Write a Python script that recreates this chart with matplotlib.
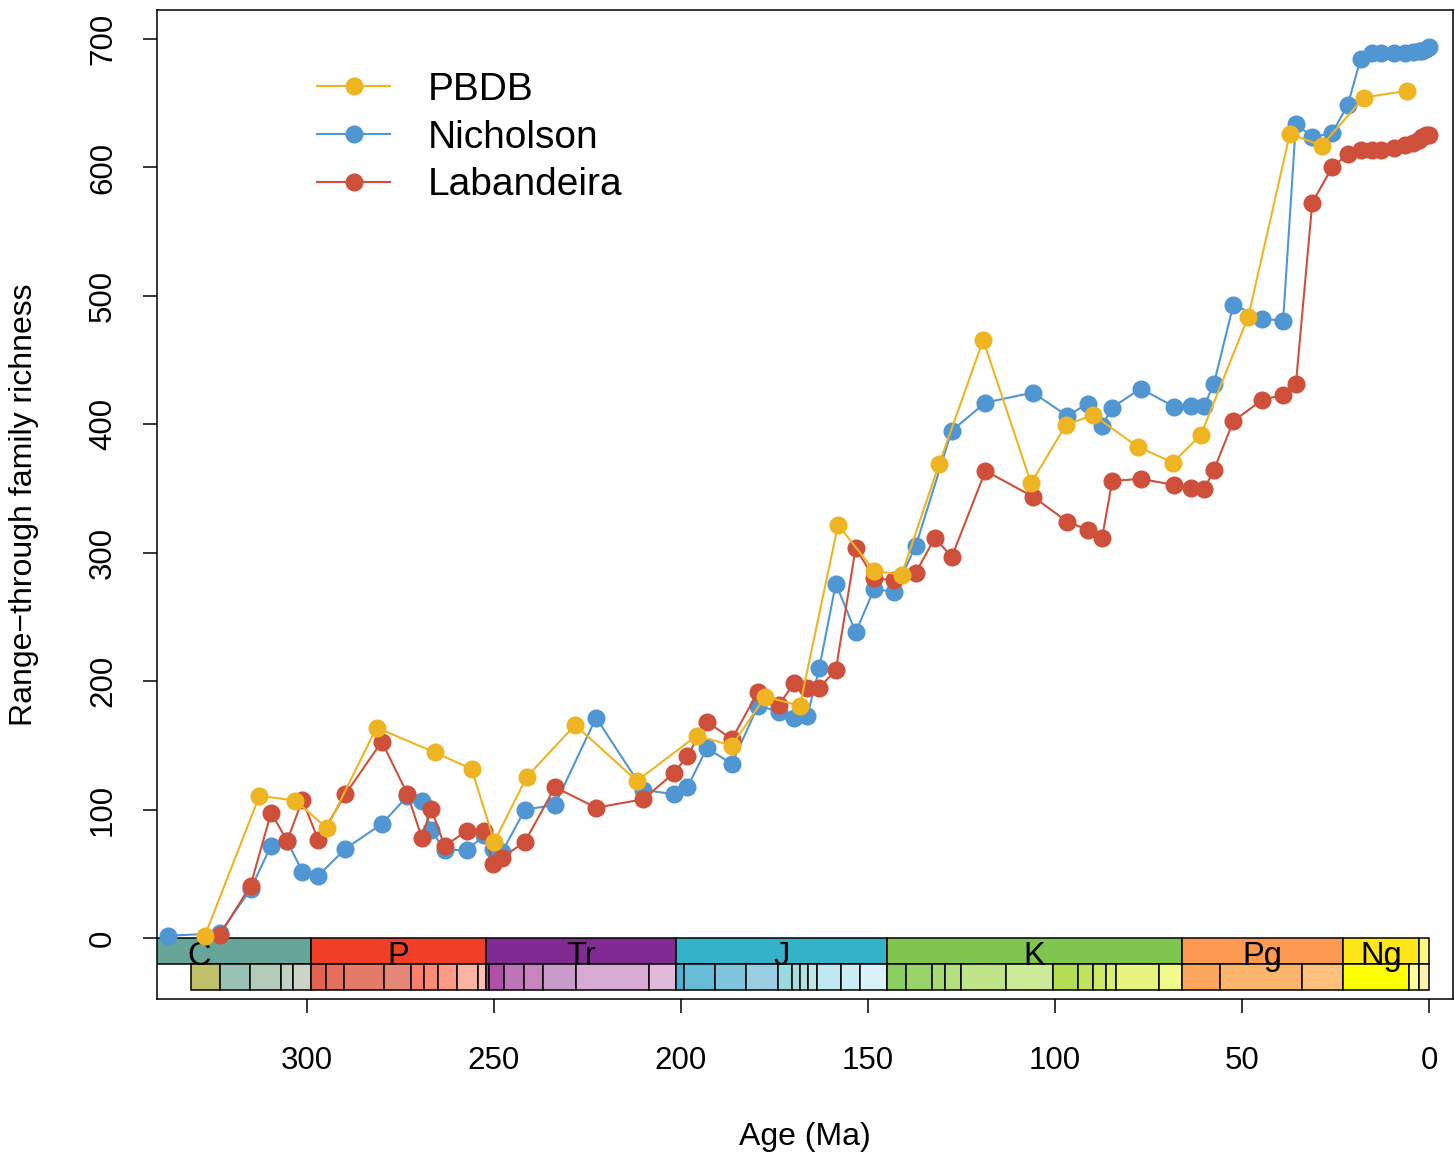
import matplotlib
matplotlib.use("Agg")
import matplotlib.pyplot as plt
from matplotlib.patches import Rectangle

plt.rcParams['font.family'] = ['Liberation Sans', 'DejaVu Sans']

# ---------------- data ----------------
pbdb_age = [327.3, 312.7, 303.1, 294.7, 281.4, 265.9, 256.0, 249.9, 241.3, 228.3,
            211.8, 195.8, 186.4, 177.5, 168.2, 158.0, 148.3, 141.0, 131.0, 119.2,
            106.4, 97.1, 89.8, 77.9, 68.5, 61.0, 48.3, 37.2, 28.7, 17.4, 6.0]
pbdb_val = [1.8, 110.7, 107.0, 85.6, 163.8, 144.6, 131.6, 75.0, 125.2, 165.9,
            122.3, 157.6, 149.8, 187.9, 180.9, 321.7, 285.8, 283.0, 368.9, 465.7,
            354.1, 399.5, 407.3, 382.6, 370.2, 391.7, 483.9, 626.2, 617.0, 654.4, 659.7]

nich_age = [337.1, 323.3, 315.1, 309.6, 305.3, 301.2, 297.0, 289.7, 280.0, 273.2,
            269.3, 266.8, 263.2, 257.2, 252.6, 250.3, 247.8, 241.7, 233.7, 222.7,
            210.1, 201.8, 198.3, 193.1, 186.4, 179.4, 173.8, 169.8, 166.2, 163.0,
            158.6, 153.3, 148.3, 143.0, 137.2, 127.6, 118.6, 105.9, 96.7, 91.3,
            87.4, 84.7, 77.1, 68.2, 63.5, 60.1, 57.5, 52.3, 44.6, 39.0,
            35.6, 31.2, 25.9, 21.7, 18.3, 15.2, 12.9, 9.4, 6.4, 4.2,
            2.6, 1.8, 0.8, 0.1]
nich_val = [1.8, 3.6, 37.9, 71.9, 75.5, 51.5, 48.5, 69.6, 88.8, 110.3,
            107.0, 84.0, 68.5, 68.5, 80.0, 69.3, 67.2, 100.0, 103.6, 171.5,
            115.3, 112.0, 117.2, 147.8, 135.7, 180.9, 176.3, 171.6, 173.1, 210.5,
            276.0, 238.0, 272.0, 269.2, 305.5, 395.0, 416.9, 424.7, 406.5, 416.1,
            398.8, 413.0, 427.8, 413.8, 414.4, 414.4, 431.7, 493.2, 482.3, 480.6,
            634.0, 623.6, 626.7, 648.8, 684.3, 689.5, 689.5, 689.5, 689.5, 689.8,
            690.3, 691.0, 692.0, 694.0]

lab_age = [323.3, 315.1, 309.6, 305.3, 301.2, 297.0, 289.7, 280.0, 273.2, 269.3,
           266.8, 263.2, 257.2, 252.6, 250.3, 247.8, 241.7, 233.7, 222.7, 210.1,
           201.8, 198.3, 193.1, 186.4, 179.4, 173.8, 169.8, 166.2, 163.0, 158.6,
           153.3, 148.3, 143.0, 137.2, 132.1, 127.6, 118.6, 105.9, 96.7, 91.3,
           87.4, 84.7, 77.1, 68.2, 63.5, 60.1, 57.5, 52.3, 44.6, 39.0,
           35.6, 31.2, 25.9, 21.7, 18.3, 15.2, 12.9, 9.4, 6.4, 4.2,
           2.6, 1.8, 0.8, 0.1]
lab_val = [2.5, 40.7, 97.6, 75.7, 107.7, 76.3, 112.1, 152.9, 112.5, 78.2,
           100.5, 71.7, 83.5, 83.5, 57.8, 62.6, 75.0, 117.4, 101.5, 108.0,
           128.7, 141.7, 168.5, 154.8, 191.8, 181.5, 198.4, 194.5, 194.9, 208.7,
           303.5, 280.0, 278.5, 284.5, 311.6, 296.7, 363.7, 343.7, 324.2, 317.8,
           311.8, 355.9, 357.5, 352.8, 350.2, 349.5, 364.5, 402.5, 419.0, 422.9,
           431.0, 572.7, 600.0, 610.6, 613.7, 613.7, 613.7, 615.0, 617.6, 619.4,
           621.5, 624.0, 625.0, 625.0]

series_names = ["PBDB", "Nicholson", "Labandeira"]
series_colors = ["#EFB422", "#5096D2", "#CF503A"]

# geological time scale (GTS2012)
period_names = ["C", "P", "Tr", "J", "K", "Pg", "Ng", ""]
period_start = [358.9, 298.9, 252.2, 201.3, 145.0, 66.0, 23.03, 2.58]
period_end = [298.9, 252.2, 201.3, 145.0, 66.0, 23.03, 2.58, 0.0]
period_colors = ["#67A599", "#F04028", "#812B92", "#34B2C9", "#7FC64E",
                 "#FD9A52", "#FFE619", "#F9F97F"]

stage_start = [330.9, 323.2, 315.2, 307.0, 303.7,
               298.9, 295.0, 290.1, 279.3, 272.3, 268.8, 265.1, 259.8, 254.2,
               252.2, 251.2, 247.2, 242.0, 237.0, 228.0, 208.5,
               201.3, 199.3, 190.8, 182.7, 174.1, 170.3, 168.3, 166.1, 163.5, 157.3, 152.1,
               145.0, 139.8, 132.9, 129.4, 125.0, 113.0, 100.5, 93.9, 89.8, 86.3, 83.6, 72.1,
               66.0, 56.0, 33.9,
               23.03, 5.333, 2.58]
stage_end = [323.2, 315.2, 307.0, 303.7, 298.9,
             295.0, 290.1, 279.3, 272.3, 268.8, 265.1, 259.8, 254.2, 252.2,
             251.2, 247.2, 242.0, 237.0, 228.0, 208.5, 201.3,
             199.3, 190.8, 182.7, 174.1, 170.3, 168.3, 166.1, 163.5, 157.3, 152.1, 145.0,
             139.8, 132.9, 129.4, 125.0, 113.0, 100.5, 93.9, 89.8, 86.3, 83.6, 72.1, 66.0,
             56.0, 33.9, 23.03,
             5.333, 2.58, 0.0]
stage_colors = ["#BFC26B", "#99C2B5", "#B3CBB9", "#BFD0C5", "#CCD4C7",
                "#E36350", "#E36F5C", "#E37B68", "#E38776", "#FB8069", "#FB8D76",
                "#FB9A85", "#FCB4A2", "#FCC0B2",
                "#A4469F", "#B051A5", "#BC75B7", "#C983BF", "#C99BCB", "#D6AAD3", "#E3B9DB",
                "#4EB3D3", "#67BCD8", "#80C5DD", "#99CEE3", "#9AD9DD", "#A6DDE0",
                "#B3E2E3", "#BFE7E5", "#BFE7F1", "#CCECF4", "#D9F1F7",
                "#8CCD60", "#99D36A", "#A6D975", "#B3DF7F", "#BFE48A", "#CCEA97",
                "#B3DE53", "#BFE35D", "#CCE968", "#D9EF74", "#E6F47F", "#F2FA8C",
                "#FDA75F", "#FDB46C", "#FEC07A",
                "#FFFF00", "#FFFF99", "#FFF2AE"]

x_ticks = [300, 250, 200, 150, 100, 50, 0]
y_ticks = [0, 100, 200, 300, 400, 500, 600, 700]

# ---------------- figure ----------------
W, H = 1455, 1156
fig = plt.figure(figsize=(W / 100, H / 100), dpi=100)
ax = fig.add_axes([157 / W, 1 - 999 / H, 1296 / W, 989 / H])
ax.set_xlim(340.1, -6.42)
ax.set_ylim(-47.5, 722.6)

band_top, band_mid, band_bot = 0.0, -20.2, -40.5
for s, e, c, n in zip(period_start, period_end, period_colors, period_names):
    ax.add_patch(Rectangle((e, band_mid), s - e, band_top - band_mid,
                           facecolor=c, edgecolor="black", linewidth=1.1, zorder=2))
    if n:
        ax.text((s + e) / 2, band_mid - 0.8, n, ha="center", va="baseline",
                fontsize=23.5, color="black", zorder=3)
for s, e, c in zip(stage_start, stage_end, stage_colors):
    ax.add_patch(Rectangle((e, band_bot), s - e, band_mid - band_bot,
                           facecolor=c, edgecolor="black", linewidth=1.1, zorder=2))

lw, ms = 1.5, 12
ax.plot(nich_age, nich_val, "-o", color=series_colors[1], lw=lw, ms=ms,
        label=series_names[1], zorder=4)
ax.plot(lab_age, lab_val, "-o", color=series_colors[2], lw=lw, ms=ms,
        label=series_names[2], zorder=5)
ax.plot(pbdb_age, pbdb_val, "-o", color=series_colors[0], lw=lw, ms=ms,
        label=series_names[0], zorder=6)

handles, labels = ax.get_legend_handles_labels()
order = [labels.index(n) for n in series_names]
ax.legend([handles[i] for i in order], [labels[i] for i in order],
          loc="upper left", bbox_to_anchor=((317 - 157) / 1296, (999 - 72) / 989),
          frameon=False, fontsize=28, handlelength=1.88, handletextpad=0.98,
          labelspacing=0.3, borderpad=0, borderaxespad=0)

ax.set_xticks(x_ticks)
ax.set_xticklabels([str(t) for t in x_ticks])
ax.set_yticks(y_ticks)
ax.set_yticklabels([str(t) for t in y_ticks], rotation=90, va="center")
ax.tick_params(axis="x", length=10, width=1.1, pad=23.5, labelsize=22.5)
ax.tick_params(axis="y", length=10, width=1.1, pad=18, labelsize=22.5)
for sp in ax.spines.values():
    sp.set_linewidth(1.1)

ax.set_xlabel("Age (Ma)", fontsize=23)
ax.xaxis.set_label_coords(0.5, (999 - 1137) / 989)
ax.xaxis.label.set_va("center")
ax.set_ylabel("Range\u2212through family richness", fontsize=23)
ax.yaxis.set_label_coords((24 - 157) / 1296, 0.5)
ax.yaxis.label.set_va("center")

fig.savefig("out.png", dpi=100)
